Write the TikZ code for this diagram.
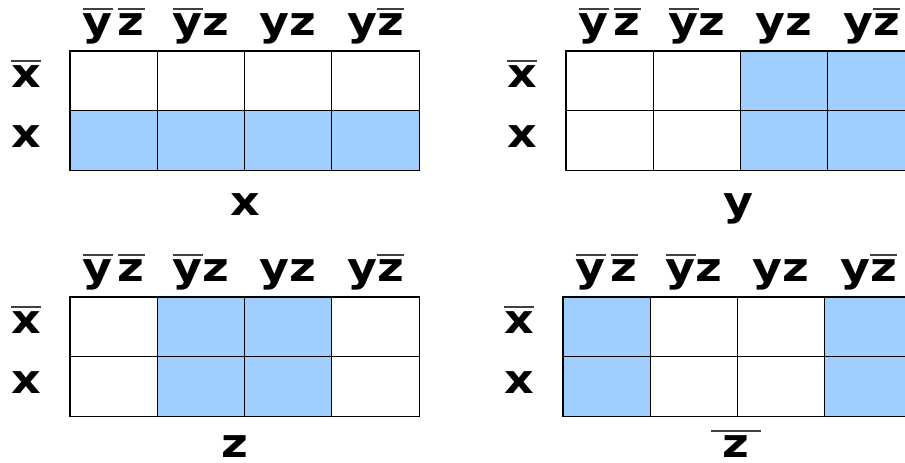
\documentclass[tikz,border=0pt]{standalone}
\usepackage{fontspec}
\usepackage{xcolor}
\usepackage{tikz}
\newfontfamily\kmfont[FakeStretch=1.15]{DejaVu Sans}
\newcommand\nt[1]{\vbox{{\color{black!75}\hrule height 1.3pt}\kern 3.5pt\hbox{#1}}}
\definecolor{kmblue}{RGB}{160,207,255}

\begin{document}
\begin{tikzpicture}[
		x=1pt, y=-1pt,
		font=\kmfont\bfseries\fontsize{40}{40}\selectfont,
		cell/.style={draw=black, line width=1.1pt, minimum width=87.3pt, minimum height=59.75pt, inner sep=0pt, outer sep=0pt},
		lbl/.style={anchor=base, inner sep=0pt}
		]
		\useasboundingbox (0,0) rectangle (905,463);
		
		% Map x: bottom row on
		\foreach \c in {1,...,4}
			\foreach \r/\f in {1/white,2/kmblue}
				\node[cell, fill=\f] (mx-\r\c) at ({70+(\c-0.5)*87.3}, {51+(\r-0.5)*59.75}) {};
		
		% Map y: right half on
		\foreach \c/\f in {1/white,2/white,3/kmblue,4/kmblue}
			\foreach \r in {1,2}
				\node[cell, fill=\f] (my-\r\c) at ({566+(\c-0.5)*87.3}, {51+(\r-0.5)*59.75}) {};
		
		% Map z: middle columns on
		\foreach \c/\f in {1/white,2/kmblue,3/kmblue,4/white}
			\foreach \r in {1,2}
				\node[cell, fill=\f] (mz-\r\c) at ({70+(\c-0.5)*87.3}, {297+(\r-0.5)*59.75}) {};
		
		% Map not z: outer columns on
		\foreach \c/\f in {1/kmblue,2/white,3/white,4/kmblue}
			\foreach \r in {1,2}
				\node[cell, fill=\f] (mnz-\r\c) at ({563+(\c-0.5)*87.3}, {297+(\r-0.5)*59.75}) {};
		
		% Column and row labels
		\foreach \m/\ox/\oy in {mx/70/51, my/566/51, mz/70/297, mnz/563/297} {
			\foreach \c/\lab in {1/{\nt{y}\kern5pt\nt{z}}, 2/{\nt{y}z}, 3/yz, 4/{y\nt{z}}}
				\node[lbl] (\m-h\c) at ({\ox+(\c-0.5)*87.3}, {\oy-16}) {\lab};
			\node[lbl] (\m-r1) at ({\ox-44}, {\oy+36}) {\nt{x}};
			\node[lbl] (\m-r2) at ({\ox-44}, {\oy+96}) {x};
		}
		
		% Map names
		\node[lbl] (mx-name) at (245,215) {x};
		\node[lbl] (my-name) at (738,215) {y};
		\node[lbl] (mz-name) at (235,457) {z};
		\node[lbl] (mnz-name) at (736,457) {\nt{\kern12pt z\kern12pt}};
		
	\end{tikzpicture}
\end{document}
